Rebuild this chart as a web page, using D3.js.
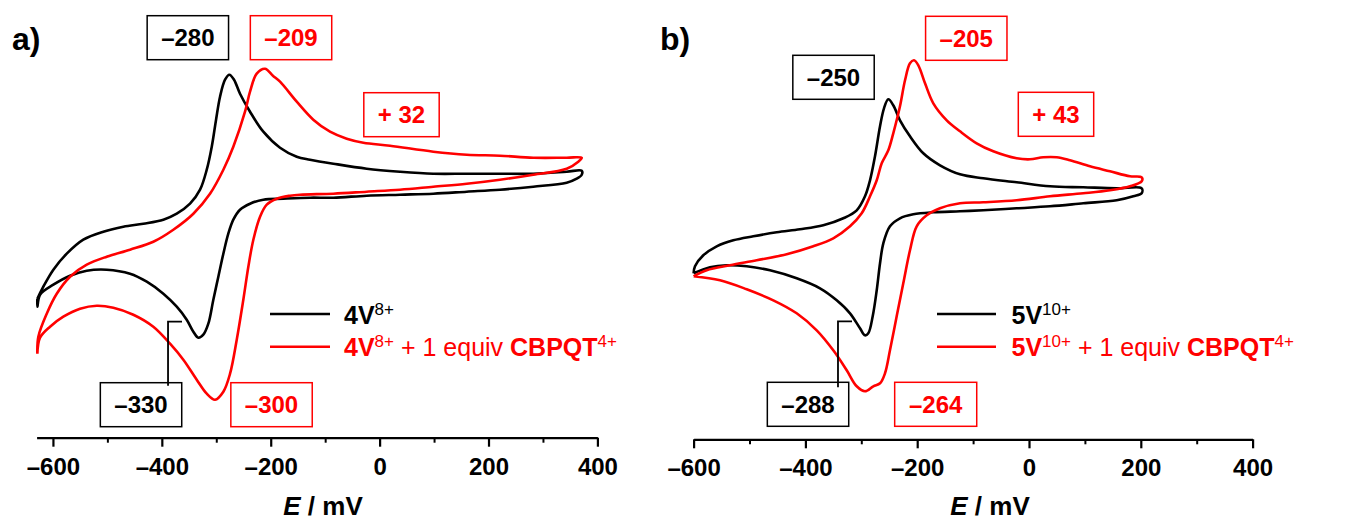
<!DOCTYPE html>
<html lang="en">
<head>
<meta charset="utf-8">
<style>
body { margin: 0; background: #fff; }
svg text { font-family: 'Liberation Sans', Arial, sans-serif; }
</style>
<script src="https://cdn.jsdelivr.net/npm/d3@7"></script>
</head>
<body>
<div id="chart"></div>
<script>
// E in mV, current in arbitrary units (no y axis in the figure)
var cv4V = [[-628.6,13.9],[-617.6,15.1],[-599.2,16.8],[-574.6,18.4],[-544.2,19.8],[-507.4,20.6],[-470.7,21.1],
  [-434.0,21.4],[-397.2,21.8],[-372.6,22.4],[-348.2,23.4],[-329.8,24.8],[-317.5,26.8],[-308.3,29.1],[-300.4,31.8],
  [-293.1,34.1],[-283.9,35.8],[-276.0,36.3],[-267.4,35.8],[-256.4,34.4],[-238.0,32.6],[-213.6,30.6],[-182.9,29.0],
  [-152.2,28.1],[-127.8,27.8],[-85.0,27.4],[-23.7,26.9],[37.5,26.6],[98.6,26.4],[160.0,26.4],[221.1,26.4],
  [282.3,26.4],[343.6,26.6],[371.2,26.7],[371.2,26.3],[362.0,25.9],[343.6,25.5],[282.3,25.1],[221.1,24.8],
  [160.0,24.6],[98.6,24.4],[37.5,24.3],[-23.7,24.2],[-85.0,24.0],[-127.8,24.0],[-176.9,23.9],[-213.6,23.8],
  [-238.0,23.4],[-256.4,22.8],[-268.7,21.8],[-277.9,20.4],[-287.0,18.4],[-296.2,16.1],[-305.4,13.8],[-314.6,11.4],
  [-323.8,10.3],[-333.0,10.0],[-342.1,10.6],[-354.3,11.8],[-372.6,13.1],[-397.2,14.4],[-427.7,15.6],[-458.4,16.4],
  [-501.2,16.8],[-537.9,16.7],[-568.6,16.2],[-599.2,15.3],[-623.7,14.3],[-628.6,13.1],[-628.6,13.9]];

var cv4Vcbpqt = [[-628.6,8.4],[-626.8,10.1],[-611.4,12.4],[-593.0,14.4],[-568.6,16.1],[-537.9,17.3],[-501.2,18.1],
  [-458.4,18.8],[-415.6,19.6],[-378.9,20.8],[-342.1,22.4],[-311.5,24.4],[-287.0,26.8],[-268.7,29.1],[-247.2,32.6],
  [-238.0,34.6],[-225.7,36.4],[-210.5,36.9],[-196.0,36.2],[-182.9,35.6],[-152.2,33.6],[-121.8,31.8],[-91.1,30.6],
  [-60.4,29.9],[-29.9,29.5],[19.1,29.2],[98.6,28.6],[160.0,28.3],[221.1,28.2],[282.3,28.0],
  [343.6,28.0],[371.2,28.0],[364.9,27.6],[343.6,26.9],[282.3,26.3],[221.1,25.8],[160.0,25.4],[98.6,25.1],
  [37.5,24.8],[-23.7,24.6],[-85.0,24.4],[-146.2,24.3],[-164.5,24.2],[-189.0,23.9],[-207.3,23.3],[-219.6,22.1],
  [-231.9,19.8],[-241.1,17.1],[-250.3,13.8],[-262.4,9.8],[-274.7,6.4],[-287.0,4.6],[-302.3,3.8],[-317.5,4.4],
  [-335.9,5.8],[-360.5,7.8],[-384.9,9.4],[-415.6,11.1],[-452.3,12.3],[-489.1,13.0],[-519.5,13.2],[-550.2,12.9],
  [-580.9,12.1],[-605.3,11.1],[-623.7,10.0],[-628.6,8.4]];

var cv5V = [[-600.0,16.6],[-597.5,17.3],[-582.6,18.4],[-558.7,19.3],[-529.0,19.9],[-493.2,20.3],[-451.3,20.7],
  [-409.7,21.0],[-368.0,21.4],[-332.2,22.1],[-308.2,22.9],[-293.4,24.3],[-284.4,25.9],[-275.5,28.3],[-266.5,31.3],
  [-259.4,33.1],[-251.7,34.0],[-242.8,33.4],[-230.8,31.9],[-212.9,30.3],[-189.1,28.6],[-159.2,27.4],[-123.4,26.5],
  [-81.8,26.1],[-22.0,25.7],[37.6,25.3],[97.1,25.2],[156.9,25.1],[201.6,25.1],[201.6,24.6],[186.6,24.3],
  [156.9,23.9],[97.1,23.6],[37.6,23.3],[-22.0,23.1],[-81.8,22.9],[-123.4,22.8],[-171.2,22.7],[-207.0,22.5],
  [-230.8,22.1],[-248.7,21.3],[-260.6,19.6],[-266.5,17.6],[-272.4,14.9],[-279.6,12.3],[-287.5,10.6],[-293.4,10.4],
  [-302.3,11.1],[-320.2,12.6],[-344.0,13.9],[-373.9,15.1],[-415.6,16.1],[-463.3,16.9],[-505.0,17.3],[-540.8,17.4],
  [-570.7,17.2],[-600.0,16.6]];

var cv5Vcbpqt = [[-600.0,16.3],[-576.6,16.9],[-534.9,17.4],[-487.1,17.9],[-433.5,18.5],[-385.9,19.3],[-350.1,20.1],
  [-320.2,21.3],[-299.3,22.6],[-284.4,24.3],[-272.4,25.9],[-263.5,27.6],[-251.7,28.9],[-242.8,30.6],[-230.8,33.3],
  [-221.8,35.9],[-212.9,37.6],[-205.7,37.9],[-198.0,37.4],[-186.0,35.6],[-171.2,33.6],[-147.2,31.9],[-123.4,30.8],
  [-93.6,29.6],[-63.9,28.8],[-22.0,28.1],[1.8,28.0],[25.6,28.2],[49.6,28.2],[73.3,27.9],[109.1,27.3],
  [144.9,26.8],[180.7,26.3],[201.6,26.2],[201.6,25.8],[180.7,25.3],[144.9,24.9],[97.1,24.6],[37.6,24.3],
  [-22.0,23.9],[-81.8,23.7],[-123.4,23.6],[-159.2,23.1],[-183.0,22.4],[-200.9,21.3],[-212.9,18.9],[-224.9,15.6],
  [-236.7,12.3],[-248.7,8.9],[-257.6,6.6],[-266.5,5.6],[-278.5,5.3],[-293.4,4.8],[-308.2,5.3],[-326.1,6.9],
  [-350.1,8.9],[-379.8,10.9],[-415.6,12.6],[-457.4,13.9],[-505.0,15.0],[-552.8,15.9],[-600.0,16.3]];

var majorTicks = [-600, -400, -200, 0, 200, 400];
var minorTicks = [-500, -300, -100, 100, 300];

// peak labels: text and anchor (E, current)
var labelsA = [["\u2013280", -352.2, 40.0, "black"], ["\u2013209", -162.7, 40.0, "red"], ["+ 32", 40.2, 32.3, "red"],
  ["\u2013330", -438.2, 3.3, "black"], ["\u2013300", -198.5, 3.3, "red"]];
var labelsB = [["\u2013250", -349.7, 36.2, "black"], ["\u2013205", -112.2, 40.1, "red"], ["+ 43", 48.3, 32.5, "red"],
  ["\u2013288", -395.3, 3.5, "black"], ["\u2013264", -166.9, 3.5, "red"]];

var W = 1349, H = 521;
var svg = d3.select("#chart").append("svg").attr("width", W).attr("height", H);

var panels = [
  { letter: "a)", lx: 12, domain: [-630, 400], range: [36.6, 597.4], axisY: 437.7,
    curves: [[cv4V, "black"], [cv4Vcbpqt, "red"]], labels: labelsA,
    leader: [-388.6, -362.9, 11.6, 3], titleX: 323,
    legX: [270, 330, 344], leg: [["4V", "8+", null], ["4V", "8+", true]] },
  { letter: "b)", lx: 660, domain: [-600, 400], range: [693.6, 1252.6], axisY: 439.3,
    curves: [[cv5V, "black"], [cv5Vcbpqt, "red"]], labels: labelsB,
    leader: [-341.7, -316.6, 11.8, 3], titleX: 990,
    legX: [937, 996, 1011.5], leg: [["5V", "10+", null], ["5V", "10+", true]] }
];

panels.forEach(function(p) {
  var x = d3.scaleLinear().domain(p.domain).range(p.range);
  var y = d3.scaleLinear().domain([0, 40]).range([p.axisY, p.axisY - 400]);
  var g = svg.append("g");

  g.append("text").attr("x", p.lx).attr("y", 50)
    .style("font-size", "32px").style("font-weight", "bold").text(p.letter);

  var line = d3.line().x(function(d){ return x(d[0]); }).y(function(d){ return y(d[1]); })
    .curve(d3.curveCatmullRom.alpha(0.5));

  p.curves.forEach(function(c) {
    g.append("path").datum(c[0]).attr("d", line)
      .attr("fill", "none").attr("stroke", c[1]).attr("stroke-width", 2.6)
      .attr("stroke-linejoin", "round");
  });

  // axis
  var ax = g.append("g").attr("transform", "translate(0," + p.axisY + ")")
    .call(d3.axisBottom(x).tickValues(majorTicks).tickSize(9).tickSizeOuter(0)
      .tickFormat(function(d){ return d < 0 ? "\u2013" + Math.abs(d) : d; }));
  ax.select(".domain").attr("stroke-width", 2.2);
  ax.selectAll(".tick line").attr("stroke-width", 2.2);
  ax.selectAll(".tick text").attr("y", 37).attr("dy", null)
    .style("font-size", "24px").style("font-weight", "bold").style("font-family", "'Liberation Sans', Arial, sans-serif");
  var mx = g.append("g").attr("transform", "translate(0," + p.axisY + ")")
    .call(d3.axisBottom(x).tickValues(minorTicks).tickSize(5).tickSizeOuter(0).tickFormat(""));
  mx.select(".domain").remove();
  mx.selectAll(".tick line").attr("stroke-width", 2);

  var title = g.append("text").attr("x", p.titleX).attr("y", 515).attr("text-anchor", "middle")
    .style("font-size", "26px").style("font-weight", "bold");
  title.append("tspan").style("font-style", "italic").text("E");
  title.append("tspan").text(" / mV");

  // boxed peak values
  p.labels.forEach(function(l) {
    var cx = x(l[1]), cy = y(l[2]);
    var t = g.append("text").attr("x", cx).attr("y", cy).attr("dy", "0.36em")
      .attr("text-anchor", "middle").attr("fill", l[3])
      .style("font-size", "24px").style("font-weight", "bold").text(l[0]);
    var bw = t.node().getBBox().width + 28;
    g.insert("rect", "text").attr("x", cx - bw / 2).attr("y", cy - 22).attr("width", bw).attr("height", 44)
      .attr("fill", "white").attr("stroke", l[3]).attr("stroke-width", 1.5);
  });

  // leader from cathodic black label
  var ld = p.leader;
  g.append("path")
    .attr("d", "M" + x(ld[1]) + "," + y(ld[2]) + "H" + x(ld[0]) + "V" + (y(ld[3]) - 22))
    .attr("fill", "none").attr("stroke", "black").attr("stroke-width", 1.8);

  // legend
  var ys = [314, 346.7];
  p.leg.forEach(function(e, i) {
    var col = i === 0 ? "black" : "red";
    g.append("line").attr("x1", p.legX[0]).attr("x2", p.legX[1]).attr("y1", ys[i]).attr("y2", ys[i])
      .attr("stroke", col).attr("stroke-width", 2.6);
    var t = g.append("text").attr("x", p.legX[2]).attr("y", ys[i] + 9.5).attr("fill", col)
      .style("font-size", "25px");
    t.append("tspan").style("font-weight", "bold").text(e[0]);
    t.append("tspan").attr("dy", -9).style("font-size", "17px").text(e[1]);
    if (e[2]) {
      t.append("tspan").attr("dy", 9).text(" + 1 equiv ");
      t.append("tspan").style("font-weight", "bold").text("CBPQT");
      t.append("tspan").attr("dy", -9).style("font-size", "17px").text("4+");
    }
  });
});
</script>
</body>
</html>
